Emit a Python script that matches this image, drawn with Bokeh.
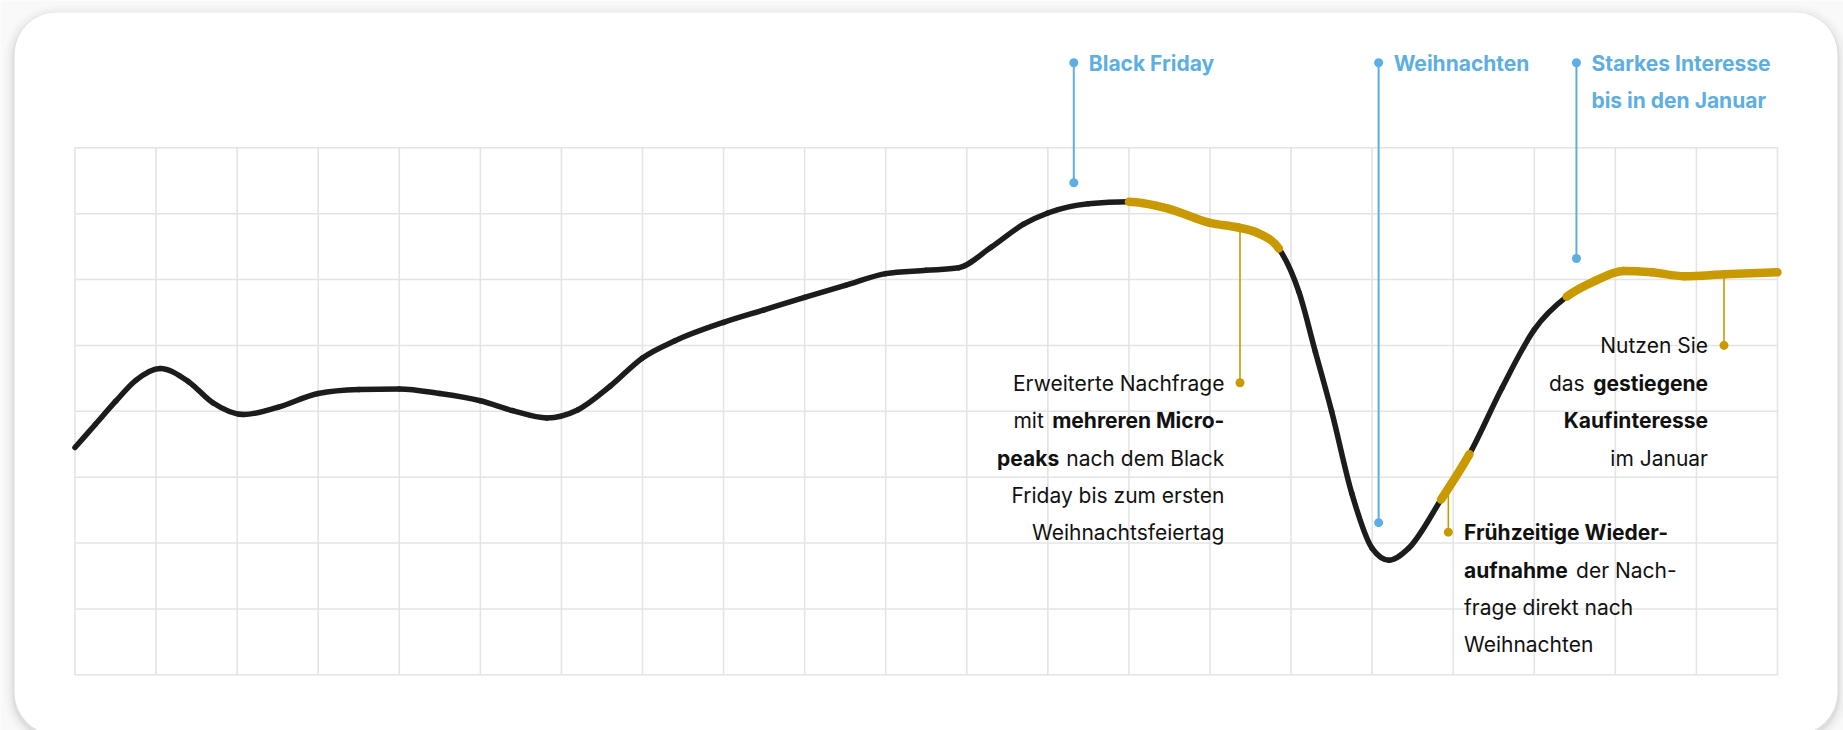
import numpy as np
from bokeh.plotting import figure
from bokeh.models import BoxAnnotation, Range1d
from bokeh.core.properties import value
from bokeh.embed import file_html
from bokeh.resources import INLINE

# ---------------- data ----------------
weeks = [0, 0.25, 0.5, 0.75, 1.05, 1.4, 1.7, 2.08, 2.5, 3.0, 3.5, 4.0,
         4.5, 5.0, 5.4, 5.82, 6.2, 6.6, 7.0, 7.4, 8.0, 8.5, 9.0,
         9.5, 10.0, 10.5, 10.9, 11.3, 11.7, 12.0, 12.5, 13.0, 13.5, 14.0, 14.35,
         14.6, 14.85, 15.1, 15.3, 15.5, 15.75, 16.0, 16.21, 16.45, 16.85, 17.2, 17.6,
         18.0, 18.4, 18.75, 19.1, 19.45, 19.85, 20.35, 21.0]
interest = [3.45, 3.80, 4.15, 4.47, 4.65, 4.45, 4.13, 3.95, 4.06, 4.27, 4.33, 4.34,
            4.27, 4.16, 4.01, 3.90, 4.02, 4.38, 4.81, 5.07, 5.35, 5.54, 5.73,
            5.91, 6.09, 6.14, 6.18, 6.49, 6.84, 7.01, 7.15, 7.18, 7.07, 6.86, 6.79,
            6.70, 6.47, 5.80, 4.90, 4.00, 2.75, 1.92, 1.74, 1.92, 2.66, 3.35, 4.35,
            5.24, 5.74, 5.98, 6.13, 6.11, 6.05, 6.08, 6.11]
highlight_ranges = [(13.0, 14.85), (16.85, 17.2), (18.4, 21.0)]
x_ticks = list(range(0, 22))
y_ticks = list(range(0, 9))

# blue event markers: (label lines, x position, y of lower dot)
event_labels = [["Black Friday"], ["Weihnachten"], ["Starkes Interesse", "bis in den Januar"]]
event_x = [12.32, 16.08, 18.52]
event_dot_y = [7.47, 2.31, 6.32]

# gold callouts: x position on the curve, y of the dot, lines of (text, bold) runs
callout_x = [14.37, 16.94, 20.34]
callout_dot_y = [4.433, 2.165, 5.0]
callout_side = ["left", "right", "left"]
callout_lines = [
    [[("Erweiterte Nachfrage", False)],
     [("mit", False), ("mehreren Micro-", True)],
     [("peaks", True), ("nach dem Black", False)],
     [("Friday bis zum ersten", False)],
     [("Weihnachtsfeiertag", False)]],
    [[("Frühzeitige Wieder-", True)],
     [("aufnahme", True), ("der Nach-", False)],
     [("frage direkt nach", False)],
     [("Weihnachten", False)]],
    [[("Nutzen Sie", False)],
     [("das", False), ("gestiegene", True)],
     [("Kaufinteresse", True)],
     [("im Januar", False)]],
]
# horizontal pixel offsets of the text runs relative to the dot (measured)
callout_offsets = [
    [[-15.6], [-196.2, -15.6], [-180.8, -15.6], [-15.6], [-15.6]],
    [[15.7], [15.7, 127.7], [15.7], [15.7]],
    [[-16.0], [-139.3, -16.0], [-16.0], [-16.0]],
]

# ---------------- layout ----------------
W, H = 1843, 730
GX0, GX1 = 74.5, 1777.0      # canvas px of x=0 and x=21
GY0, GY1 = 674.3, 147.3      # canvas px (from top) of y=0 and y=8
CW = (GX1 - GX0) / 21.0
CH = (GY0 - GY1) / 8.0
LINE_H = 37.4
BASE_SHIFT = 0.5
TOP_DOT_PY = 62.3
FS = "21px"

def px_x(px):
    return (px - GX0) / CW

def px_y(py):
    return (GY0 - py) / CH

BLUE = "#5daee1"
GOLD = "#c99a00"
INK = "#1c1c1c"
TXT = "#111111"
FONT = value("Inter")

p = figure(width=W, height=H, output_backend="svg", toolbar_location=None,
           x_axis_type=None, y_axis_type=None,
           x_range=Range1d(px_x(0), px_x(W)), y_range=Range1d(px_y(H), px_y(0)),
           min_border=0, outline_line_color=None)
p.background_fill_color = "#f9f9f9"
p.border_fill_color = "#f9f9f9"

# card with soft shadow
CL, CT, CR, CB = 14, 12, 1837, 734
for grow, alpha in [(10, 0.015), (7, 0.02), (4, 0.03), (2, 0.045)]:
    p.add_layout(BoxAnnotation(left=px_x(CL - grow), right=px_x(CR + grow),
                               top=px_y(CT - grow + 3), bottom=px_y(CB + grow + 3),
                               fill_color="#000000", fill_alpha=alpha, line_color=None,
                               border_radius=42 + grow, level="image"))
p.add_layout(BoxAnnotation(left=px_x(CL), right=px_x(CR), top=px_y(CT), bottom=px_y(CB),
                           fill_color="#ffffff", fill_alpha=1.0, line_color=None,
                           border_radius=42, level="image"))

# grid (cell lines from the tick lists)
p.segment(x0=x_ticks, y0=[y_ticks[0]] * len(x_ticks), x1=x_ticks, y1=[y_ticks[-1]] * len(x_ticks),
          line_color="#e4e4e4", line_width=1.6)
p.segment(x0=[x_ticks[0]] * len(y_ticks), y0=y_ticks, x1=[x_ticks[-1]] * len(y_ticks), y1=y_ticks,
          line_color="#e4e4e4", line_width=1.6)

# blue event leaders
top_y = px_y(TOP_DOT_PY)
p.segment(x0=event_x, y0=[top_y] * 3, x1=event_x, y1=event_dot_y, line_color=BLUE, line_width=2)
p.scatter(x=event_x * 2, y=[top_y] * 3 + event_dot_y, size=9, marker="circle",
          fill_color=BLUE, line_color=None)
for lines, ex in zip(event_labels, event_x):
    for k, t in enumerate(lines):
        p.text(x=[ex], y=[px_y(TOP_DOT_PY + BASE_SHIFT + k * LINE_H)], text=[t], x_offset=15,
               text_font=FONT, text_font_style="bold", text_font_size=FS,
               text_color=BLUE, text_align="left", text_baseline="alphabetic")

# gold callout leaders
wx = np.array(weeks, dtype=float)
wy = np.array(interest, dtype=float)
curve_at = [float(np.interp(cx, wx, wy)) for cx in callout_x]
p.segment(x0=callout_x, y0=curve_at, x1=callout_x, y1=callout_dot_y, line_color=GOLD, line_width=1.6)
p.scatter(x=callout_x, y=callout_dot_y, size=9, marker="circle", fill_color=GOLD, line_color=None)

for cx, cy, side, lines, offs in zip(callout_x, callout_dot_y, callout_side, callout_lines, callout_offsets):
    dot_py = GY0 - cy * CH
    align = "right" if side == "left" else "left"
    for k, (runs, ro) in enumerate(zip(lines, offs)):
        ty = px_y(dot_py + BASE_SHIFT + k * LINE_H)
        for (t, bold), dx in zip(runs, ro):
            p.text(x=[cx], y=[ty], text=[t], x_offset=dx,
                   text_font=FONT, text_font_style="bold" if bold else "normal",
                   text_font_size=FS, text_color=TXT, text_align=align,
                   text_baseline="alphabetic")

# smooth (monotone-x) rendering of the line through the data points
n = len(wx)
h = np.diff(wx)
s = np.diff(wy) / h
t = np.zeros(n)
for i in range(1, n - 1):
    h0, h1, s0, s1 = h[i - 1], h[i], s[i - 1], s[i]
    pp = (s0 * h1 + s1 * h0) / (h0 + h1)
    t[i] = (np.sign(s0) + np.sign(s1)) * min(abs(s0), abs(s1), 0.5 * abs(pp))
t[0] = (3 * s[0] - t[1]) / 2
t[-1] = (3 * s[-1] - t[-2]) / 2
d = h / 3.0
seg = dict(x0=wx[:-1], y0=wy[:-1], x1=wx[1:], y1=wy[1:],
           cx0=wx[:-1] + d, cy0=wy[:-1] + d * t[:-1],
           cx1=wx[1:] - d, cy1=wy[1:] - d * t[1:])

p.bezier(**{k: v.tolist() for k, v in seg.items()}, line_color=INK, line_width=5.5, line_cap="round")
for a, b in highlight_ranges:
    m = (wx[:-1] >= a - 1e-9) & (wx[1:] <= b + 1e-9)
    p.bezier(**{k: v[m].tolist() for k, v in seg.items()}, line_color=GOLD, line_width=8.5,
             line_cap="round")

open("out.html", "w").write(file_html(p, INLINE))
